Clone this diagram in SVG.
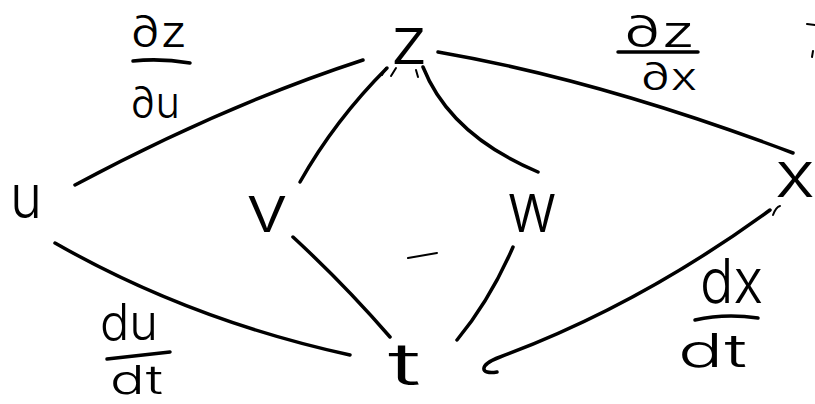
<svg xmlns="http://www.w3.org/2000/svg" width="815" height="404" viewBox="0 0 815 404">
<style>
.h{font-family:Inter,"Liberation Sans",sans-serif;font-weight:300;fill:#000}
.e{fill:none;stroke:#000;stroke-width:3.5;stroke-linecap:round;stroke-linejoin:round}
.m{fill:none;stroke:#000;stroke-width:2;stroke-linecap:round}
</style>
<rect width="815" height="404" fill="#fff"/>
<g id="connectors">
<path class="e" d="M75,185 Q225,105 363,60"/>
<path class="e" d="M300,182 Q335,120 387,68"/>
<path class="e" d="M423,67 Q450,135 538,172"/>
<path class="e" d="M438,52 Q600,80 793,153"/>
<path class="e" d="M55,243 Q190,320 350,355"/>
<path class="e" d="M293,237 Q345,285 390,337"/>
<path class="e" d="M513,247 Q490,300 457,340"/>
<path class="e" d="M497,372 C480,375 478,365 500,357 Q640,305 770,210"/>
</g>
<g id="marks">
<path class="m" d="M408,258 L437,253"/>
<path class="m" d="M382,75 L386,68 M391,76 L396,68 M418,77 L416,70"/>
<path class="m" d="M773,215 Q776,207 780,206 M807,24 L815,25 M813,51 L812,57"/>
</g>
<g id="node-z"><text class="h" x="390" y="64" font-size="66" textLength="38" lengthAdjust="spacingAndGlyphs">z</text></g>
<g id="node-u"><text class="h" x="10" y="218" font-size="60" textLength="32" lengthAdjust="spacingAndGlyphs">u</text></g>
<g id="node-v"><text class="h" x="246" y="232" font-size="66" textLength="42" lengthAdjust="spacingAndGlyphs">v</text></g>
<g id="node-w"><text class="h" x="507" y="232" font-size="70" textLength="50" lengthAdjust="spacingAndGlyphs">w</text></g>
<g id="node-x"><text class="h" x="775" y="197" font-size="64" textLength="40" lengthAdjust="spacingAndGlyphs">x</text></g>
<g id="node-t"><text class="h" x="388" y="385" font-size="58" textLength="33" lengthAdjust="spacingAndGlyphs">t</text></g>
<g id="label-dz-du">
<text class="h" x="130" y="47" font-size="44" textLength="57" lengthAdjust="spacingAndGlyphs">∂z</text>
<path class="e" d="M133,61 Q160,58 190,63"/>
<text class="h" x="130" y="118" font-size="44" textLength="50" lengthAdjust="spacingAndGlyphs">∂u</text>
</g>
<g id="label-dz-dx">
<text class="h" x="623" y="47" font-size="44" textLength="72" lengthAdjust="spacingAndGlyphs">∂z</text>
<path class="e" d="M618,52 L698,52"/>
<text class="h" x="640" y="90" font-size="38" textLength="57" lengthAdjust="spacingAndGlyphs">∂x</text>
</g>
<g id="label-du-dt">
<text class="h" x="100" y="340" font-size="50" textLength="58" lengthAdjust="spacingAndGlyphs">du</text>
<path class="e" d="M107,359 L170,352"/>
<text class="h" x="110" y="394" font-size="40" textLength="53" lengthAdjust="spacingAndGlyphs">dt</text>
</g>
<g id="label-dx-dt">
<text class="h" x="700" y="303" font-size="62" textLength="63" lengthAdjust="spacingAndGlyphs">dx</text>
<path class="e" d="M695,320 Q725,313 758,318"/>
<text class="h" x="678" y="367" font-size="46" textLength="69" lengthAdjust="spacingAndGlyphs">dt</text>
</g>
</svg>
